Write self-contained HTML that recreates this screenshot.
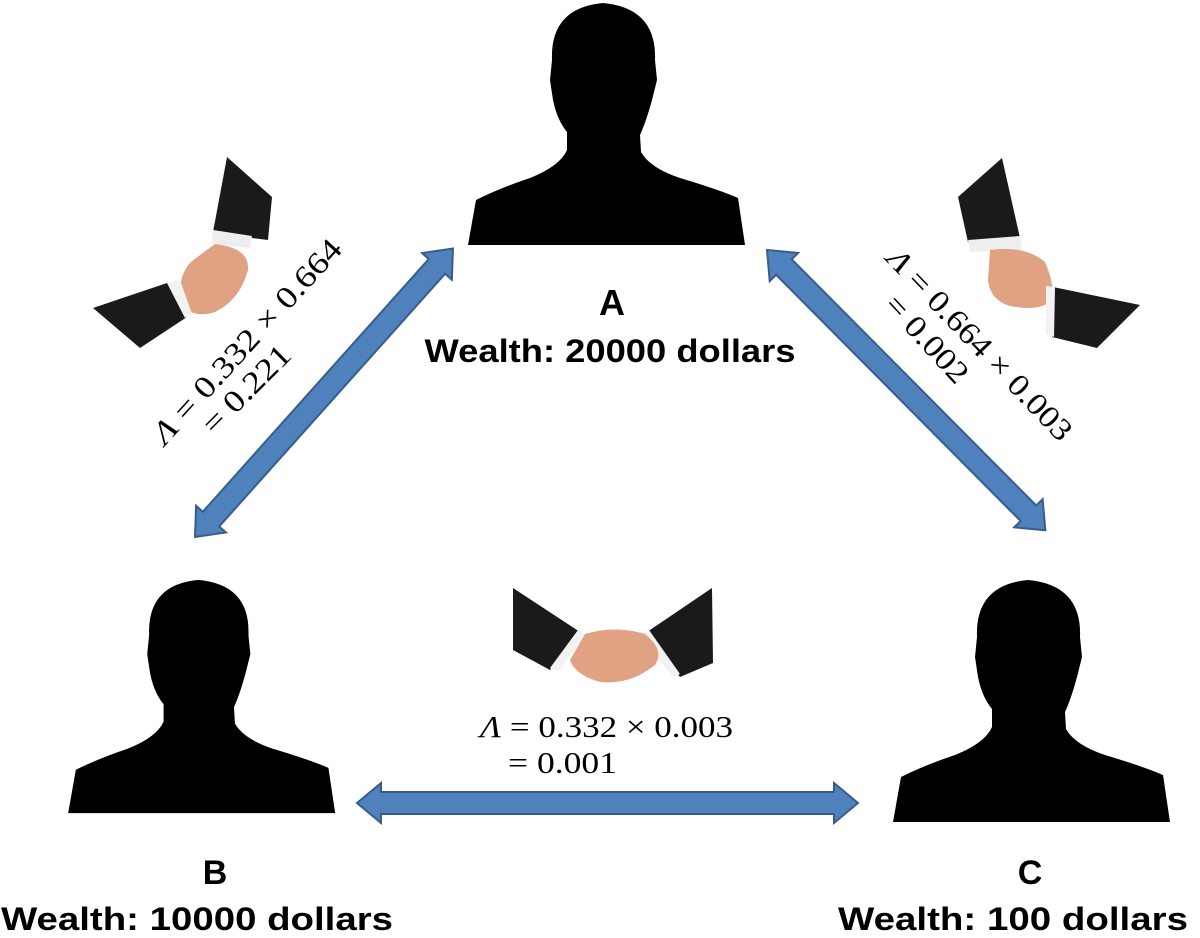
<!DOCTYPE html>
<html><head><meta charset="utf-8"><style>html,body{margin:0;padding:0;background:#fff}svg{display:block}</style></head>
<body>
<svg width="1200" height="938" viewBox="0 0 1200 938" xmlns="http://www.w3.org/2000/svg">
<defs>
<path id="sil" d="M468,245 L476,200 Q500,188 530,178 Q560,166 567,150 L567,132 Q557,120 553,100 L550,80 L552,60 Q550,8 603,3 Q657,8 655,60 L657,80 L652,100 Q646,122 640,135 L641,152 Q650,168 680,178 Q720,190 738,198 L745,245 Z" fill="#000"/>
</defs>
<use href="#sil"/>
<use href="#sil" transform="translate(-383,577) scale(0.964)"/>
<use href="#sil" transform="translate(425,577)"/>

<g fill="#4f81bd" stroke="#385d8a" stroke-width="2">
<polygon transform="translate(357,803)" points="0,0 24,-20 24,-11 477,-11 477,-20 501,0 477,20 477,11 24,11 24,20"/>
<polygon transform="translate(195,537) rotate(-48.2)" points="0,0 24,-20 24,-11 363,-11 363,-20 387,0 363,20 363,11 24,11 24,20"/>
<polygon transform="translate(767,250) rotate(45.2)" points="0,0 24,-20 24,-11 371,-11 371,-20 395,0 371,20 371,11 24,11 24,20"/>
</g>

<!-- left handshake -->
<polygon points="227,157 272,197 268,240 252,238 213,232" fill="#1a1a1a"/>
<polygon points="213,230 252,236 250,248 212,244" fill="#eee"/>
<path d="M215,244 Q250,248 248,270 Q240,300 215,312 Q190,320 180,300 Q178,270 196,258 Z" fill="#e0a283"/>
<polygon points="93,308 167,283 187,317 140,348" fill="#1a1a1a"/>
<polygon points="167,283 180,280 192,314 185,318" fill="#f2f2f2"/>
<!-- right handshake -->
<polygon points="958,197 1002,158 1020,238 968,242" fill="#1a1a1a"/>
<polygon points="968,240 1020,236 1022,250 970,252" fill="#eee"/>
<path d="M990,250 Q1025,245 1045,262 Q1055,285 1052,300 Q1040,312 1010,306 Q990,300 988,280 Z" fill="#e0a283"/>
<polygon points="1053,287 1140,305 1097,348 1052,337" fill="#1a1a1a"/>
<polygon points="1046,286 1055,287 1054,337 1046,334" fill="#f2f2f2"/>
<!-- bottom handshake -->
<polygon points="513,588 580,632 550,670 513,650" fill="#1a1a1a"/>
<polygon points="712,588 713,663 680,677 647,632" fill="#1a1a1a"/>
<polygon points="578,630 586,634 558,672 550,668" fill="#f2f2f2"/>
<polygon points="649,630 641,634 672,677 680,674" fill="#f2f2f2"/>
<path d="M585,634 Q615,625 645,634 Q665,650 655,665 Q630,685 600,682 Q575,675 570,660 Z" fill="#e0a283"/>

<g font-family="Liberation Sans, sans-serif" font-weight="bold" fill="#000" text-anchor="middle">
<text x="612" y="315" font-size="36">A</text>
<text x="610" y="362" font-size="32" textLength="371" lengthAdjust="spacingAndGlyphs">Wealth: 20000 dollars</text>
<text x="215" y="884" font-size="34">B</text>
<text x="197" y="930" font-size="32" textLength="392" lengthAdjust="spacingAndGlyphs">Wealth: 10000 dollars</text>
<text x="1030" y="884" font-size="34">C</text>
<text x="1013" y="930" font-size="32" textLength="350" lengthAdjust="spacingAndGlyphs">Wealth: 100 dollars</text>
</g>

<g font-family="Liberation Serif, serif" font-size="31" fill="#000">
<text transform="translate(165,446) rotate(-47.6)" textLength="265" lengthAdjust="spacingAndGlyphs"><tspan font-style="italic">Λ</tspan> = 0.332 × 0.664</text>
<text transform="translate(214,436) rotate(-45)" textLength="112" lengthAdjust="spacingAndGlyphs">= 0.221</text>
<text transform="translate(885,260) rotate(46.3)" textLength="253" lengthAdjust="spacingAndGlyphs"><tspan font-style="italic">Λ</tspan> = 0.664 × 0.003</text>
<text transform="translate(883,306) rotate(47.5)" textLength="108" lengthAdjust="spacingAndGlyphs">= 0.002</text>
<text x="480" y="737" textLength="253" lengthAdjust="spacingAndGlyphs"><tspan font-style="italic">Λ</tspan> = 0.332 × 0.003</text>
<text x="508" y="773" textLength="109" lengthAdjust="spacingAndGlyphs">= 0.001</text>
</g>
</svg>
</body></html>
